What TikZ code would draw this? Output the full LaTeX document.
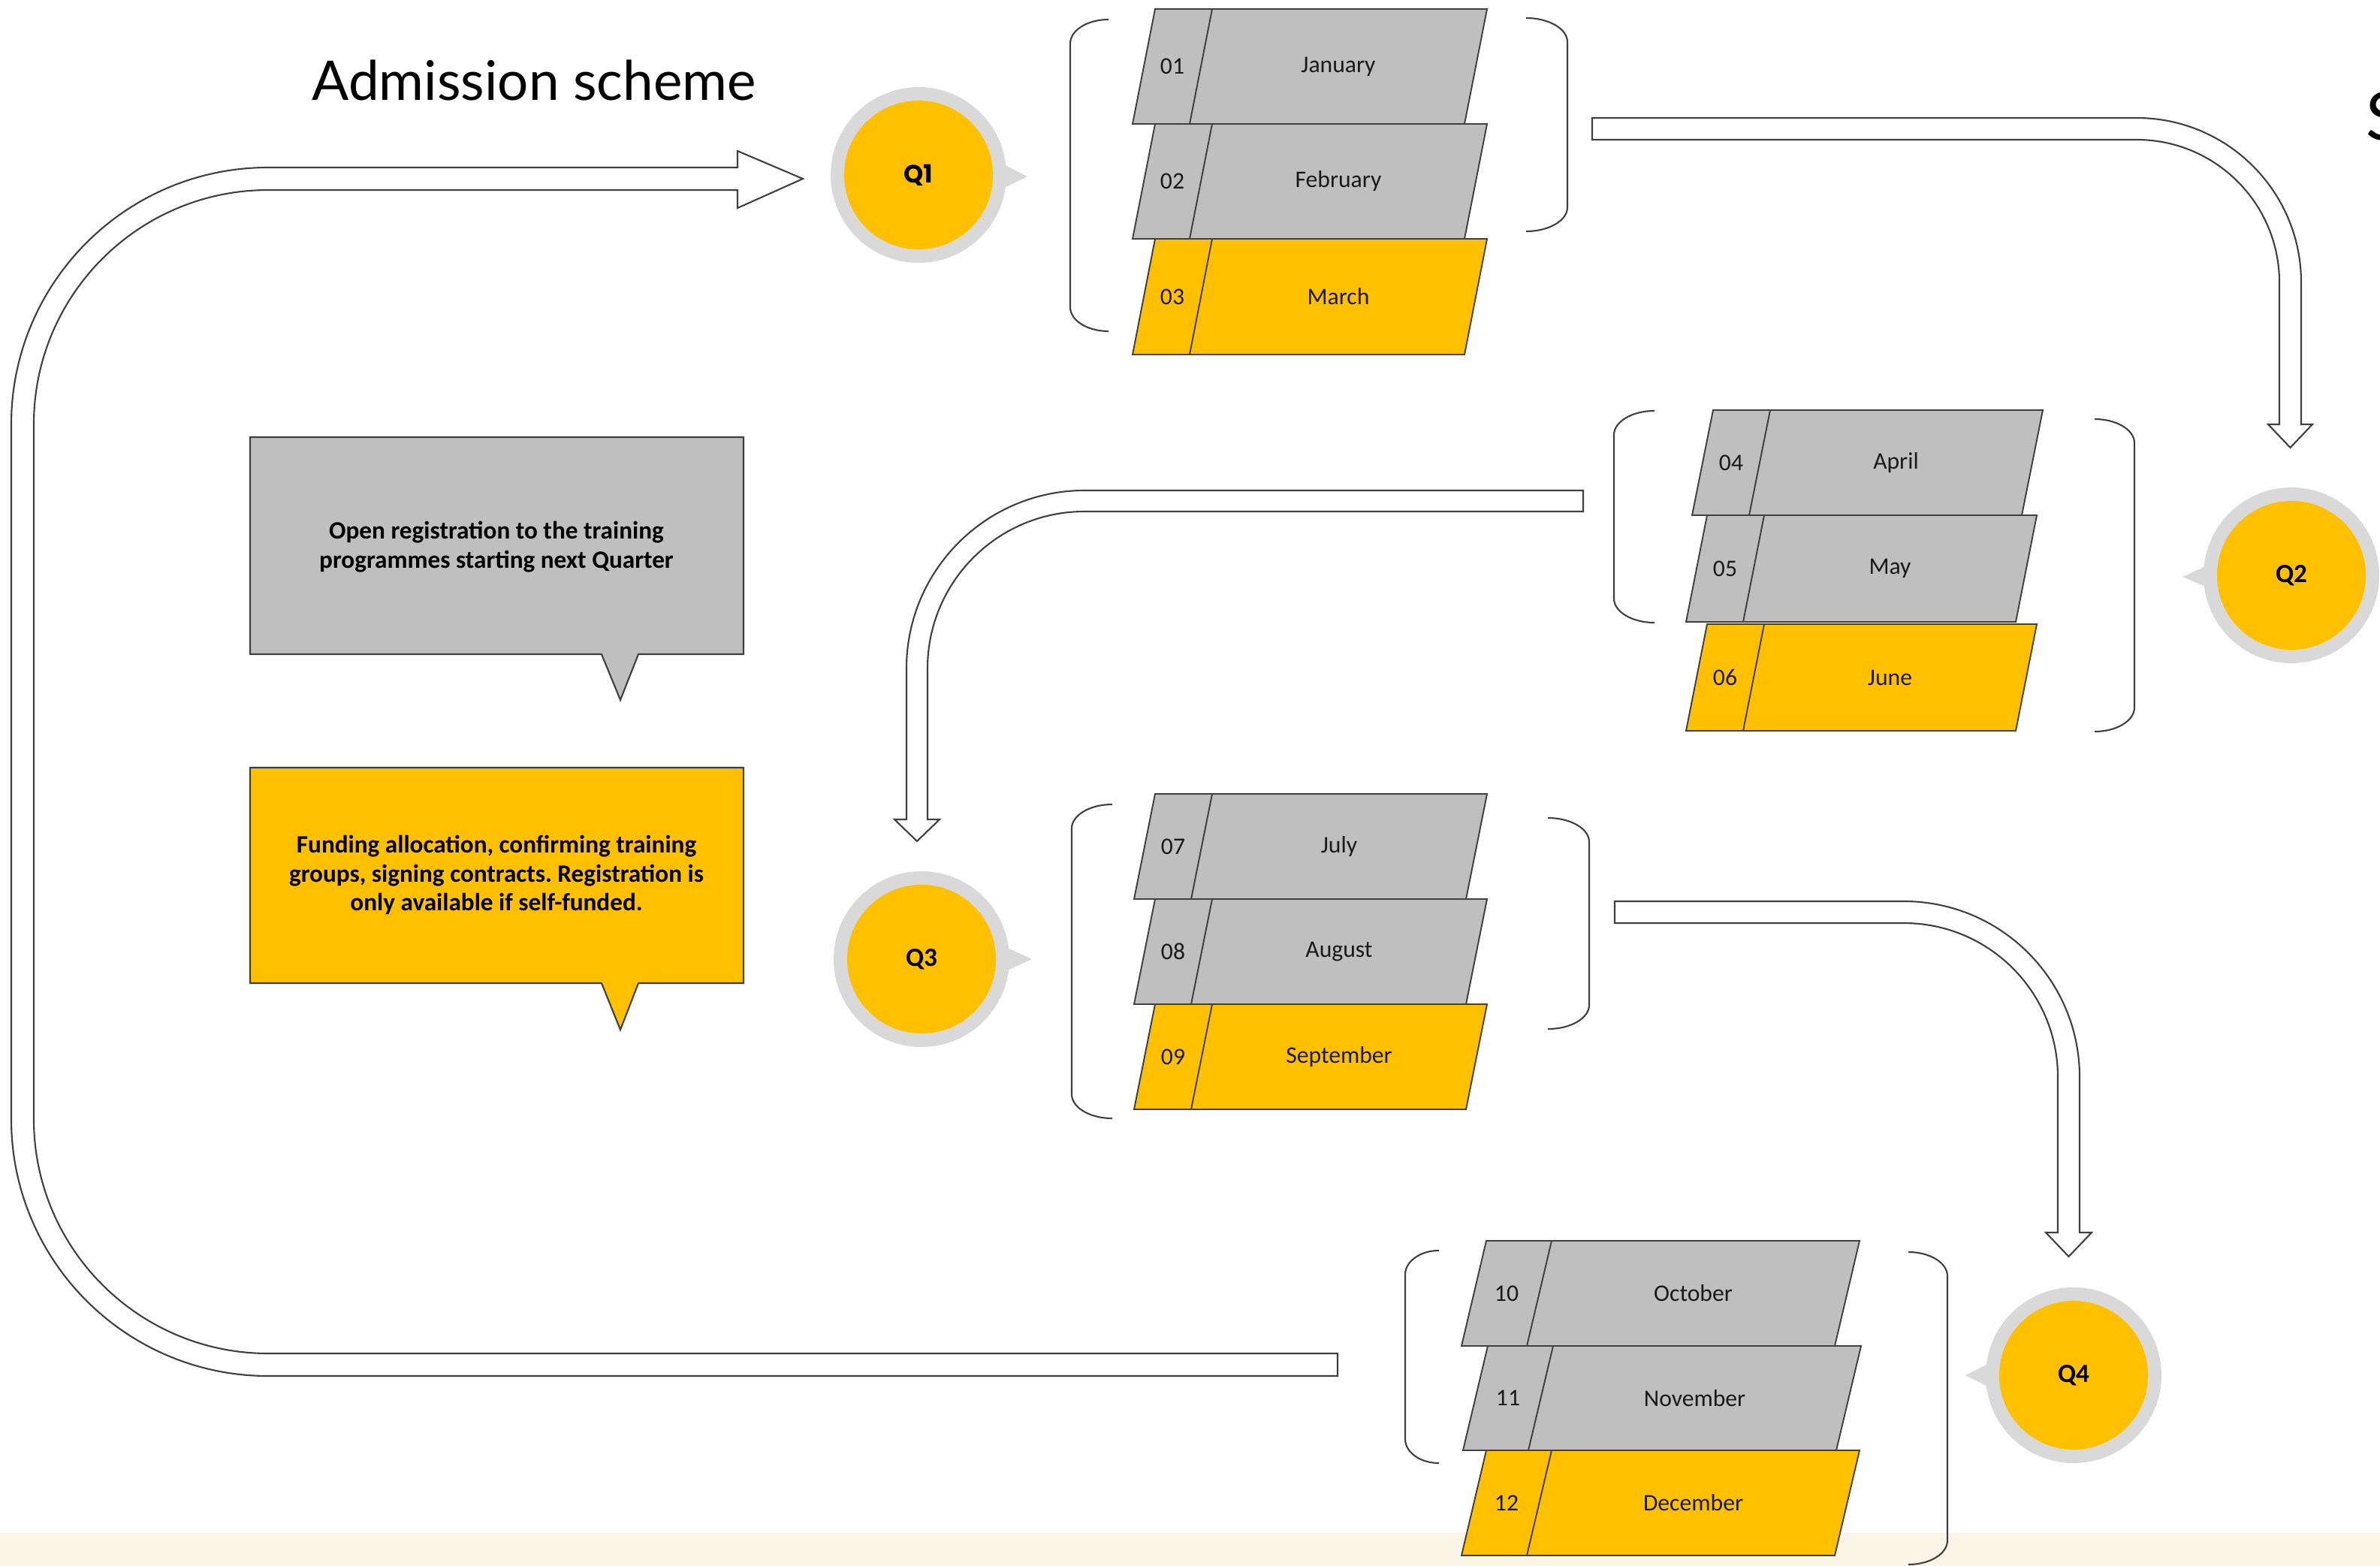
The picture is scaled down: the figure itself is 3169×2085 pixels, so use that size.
\documentclass[tikz,border=0pt]{standalone}
\usepackage{fontspec}
\setmainfont{Carlito}
\newfontfamily\titlefont{Lato}
\newfontfamily\qfont{Poppins}
\usetikzlibrary{calc}
\frenchspacing
\definecolor{qyellow}{HTML}{FFC000}
\definecolor{qgrey}{HTML}{BFBFBF}
\definecolor{ringgrey}{HTML}{D9D9D9}
\definecolor{edgecol}{HTML}{404040}
\definecolor{bandcol}{RGB}{251,245,232}
\definecolor{txtcol}{HTML}{1A1A1A}
\tikzset{
  blockline/.style={draw=edgecol, line width=0.55pt, line join=miter},
  arrowline/.style={draw=edgecol, fill=white, line width=0.6pt, line join=miter},
  brk/.style={draw=edgecol, line width=0.6pt},
  numtext/.style={font=\fontsize{9}{10}\selectfont, text=txtcol, inner sep=0pt},
  monthtext/.style={font=\fontsize{9}{10}\selectfont, text=txtcol, inner sep=0pt},
  calloutbox/.style={draw=edgecol, line width=0.6pt, line join=miter},
  callouttext/.style={font=\bfseries\fontsize{9.45}{11}\selectfont, align=center, text=black, inner sep=0pt},
  qcirc/.style={circle, fill=qyellow, minimum size=1.98cm, inner sep=0pt, text=black},
  qlabA/.style={font=\qfont\bfseries\fontsize{9.5}{11}\selectfont},
  qlabB/.style={font=\bfseries\fontsize{10}{12}\selectfont},
}
% #1 x top-left, #2 y top, #3 width, #4 height, #5 slant, #6 divider offset, #7 fill, #8 number, #9 month
\newcommand{\mblock}[9]{%
  \filldraw[blockline, fill=#7] (#1,#2) -- ({#1+#3},#2) -- ({#1+#3-#5},{#2+#4}) -- ({#1-#5},{#2+#4}) -- cycle;
  \draw[blockline] ({#1+#6},#2) -- ({#1+#6-#5},{#2+#4});
  \node[numtext] (n#8) at ({#1+#6/2-#5/2},{#2+#4/2}) {#8};
  \node[monthtext] (m#8) at ({#1+(#6+#3)/2-#5/2},{#2+#4/2}) {#9};
}
% brackets: #1 x of ends, #2 x of vertical, #3 y top, #4 y bottom
\newcommand{\lbrk}[4]{%
  \draw[brk] (#1,#3) arc[start angle=270,end angle=180,x radius={#1-#2},y radius=32]
    -- (#2,{#4-32}) arc[start angle=180,end angle=90,x radius={#1-#2},y radius=32];}
\newcommand{\rbrk}[4]{%
  \draw[brk] (#1,#3) arc[start angle=270,end angle=360,x radius={#2-#1},y radius=32]
    -- (#2,{#4-32}) arc[start angle=0,end angle=90,x radius={#2-#1},y radius=32];}
\begin{document}
\begin{tikzpicture}[x=0.01cm,y=-0.01cm]
\useasboundingbox (0,0) rectangle (3169,2085);
\fill[bandcol] (0,2041) rectangle (3169,2085);

% title
\node[anchor=base west, inner sep=0pt, font=\titlefont\fontsize{20.7}{24}\selectfont] (title) at (415,134) {Admission scheme};
\node[anchor=base west, inner sep=0pt, font=\titlefont\fontsize{25}{30}\selectfont] (stitle) at (3150,187) {S};

% arrows
\coordinate (a1s) at (1781,1817);
\coordinate (a1e) at (1069,238);
\filldraw[arrowline] (1781,1802) -- (357,1802) arc[start angle=90,end angle=180,radius=312]
  -- (45,565) arc[start angle=180,end angle=270,radius=312]
  -- (982,253) -- (982,277) -- (a1e) -- (982,201) -- (982,223)
  -- (357,223) arc[start angle=270,end angle=180,radius=342]
  -- (15,1490) arc[start angle=180,end angle=90,radius=342]
  -- (1781,1832) -- cycle;

\coordinate (a2e) at (3049.5,596);
\filldraw[arrowline] (2120,157) -- (2845,157) arc[start angle=270,end angle=360,radius=219]
  -- (3064,565) -- (3079,565) -- (a2e) -- (3020,565) -- (3035,565)
  -- (3035,376) arc[start angle=0,end angle=-90,radius=190]
  -- (2120,186) -- cycle;

\coordinate (a3e) at (1221,1120);
\filldraw[arrowline] (2108,653) -- (1444,653) arc[start angle=270,end angle=180,radius=237]
  -- (1207,1091) -- (1191,1091) -- (a3e) -- (1251,1091) -- (1235,1091)
  -- (1235,890) arc[start angle=180,end angle=270,radius=209]
  -- (2108,681) -- cycle;

\coordinate (a4e) at (2754.5,1673);
\filldraw[arrowline] (2150,1200) -- (2535,1200) arc[start angle=270,end angle=360,radius=234]
  -- (2769,1641) -- (2785,1641) -- (a4e) -- (2724,1641) -- (2740,1641)
  -- (2740,1434) arc[start angle=0,end angle=-90,radius=205]
  -- (2150,1229) -- cycle;

% brackets
\lbrk{1476}{1425}{26}{441}
\rbrk{2032}{2087}{24}{308}
\lbrk{2203}{2149}{547}{829}
\rbrk{2789}{2842}{558}{974}
\lbrk{1481}{1427}{1071}{1489}
\rbrk{2061}{2116}{1089}{1370}
\lbrk{1916}{1871}{1665}{1948}
\rbrk{2541}{2593}{1667}{2083}

% month blocks
\mblock{1538}{12}{442}{153}{30}{76}{qgrey}{01}{January}
\mblock{1538}{165}{442}{153}{30}{76}{qgrey}{02}{February}
\mblock{1538}{318}{442}{154}{30}{76}{qyellow}{03}{March}

\mblock{2281}{546}{439}{140}{28}{76}{qgrey}{04}{April}
\mblock{2273}{686}{439}{142}{28}{76}{qgrey}{05}{May}
\mblock{2273}{831}{439}{142}{28}{76}{qyellow}{06}{June}

\mblock{1538}{1057}{442}{140}{28}{76}{qgrey}{07}{July}
\mblock{1538}{1197}{442}{140}{28}{76}{qgrey}{08}{August}
\mblock{1538}{1337}{442}{140}{28}{76}{qyellow}{09}{September}

\mblock{1979}{1652}{497}{140}{33}{87}{qgrey}{10}{October}
\mblock{1981}{1792}{497}{139}{33}{87}{qgrey}{11}{November}
\mblock{1979}{1931}{497}{140}{33}{87}{qyellow}{12}{December}

% callouts
\filldraw[calloutbox, fill=qgrey] (333,582) -- (990,582) -- (990,871) -- (850,871) -- (826,932) -- (801,871) -- (333,871) -- cycle;
\node[callouttext] (c1) at (661,728) {Open registration to the training\\programmes starting next Quarter};
\filldraw[calloutbox, fill=qyellow] (333,1022) -- (990,1022) -- (990,1309) -- (850,1309) -- (826,1371) -- (801,1309) -- (333,1309) -- cycle;
\node[callouttext] (c2) at (661,1165) {Funding allocation, confirming training\\groups, signing contracts. Registration is\\only available if self-funded.};

% quarter circles
\coordinate (q1c) at (1223,233);
\coordinate (q2c) at (3051,766);
\coordinate (q3c) at (1227,1277);
\coordinate (q4c) at (2761,1831);
\fill[ringgrey] (q1c) circle[radius=117];
\fill[ringgrey] ($(q1c)+(110,-16)$) -- ($(q1c)+(145,2)$) -- ($(q1c)+(110,19)$) -- cycle;
\fill[ringgrey] (q2c) circle[radius=117];
\fill[ringgrey] ($(q2c)+(-110,-14)$) -- ($(q2c)+(-145,2)$) -- ($(q2c)+(-110,17)$) -- cycle;
\fill[ringgrey] (q3c) circle[radius=117];
\fill[ringgrey] ($(q3c)+(110,-17)$) -- ($(q3c)+(147,0)$) -- ($(q3c)+(110,17)$) -- cycle;
\fill[ringgrey] (q4c) circle[radius=117];
\fill[ringgrey] ($(q4c)+(-110,-17)$) -- ($(q4c)+(-144,0)$) -- ($(q4c)+(-110,17)$) -- cycle;
\node[qcirc, qlabA] (q1) at (q1c) {Q1};
\node[qcirc, qlabB] (q2) at (q2c) {Q2};
\node[qcirc, qlabB] (q3) at (q3c) {Q3};
\node[qcirc, qlabB] (q4) at (q4c) {Q4};
\end{tikzpicture}
\end{document}
